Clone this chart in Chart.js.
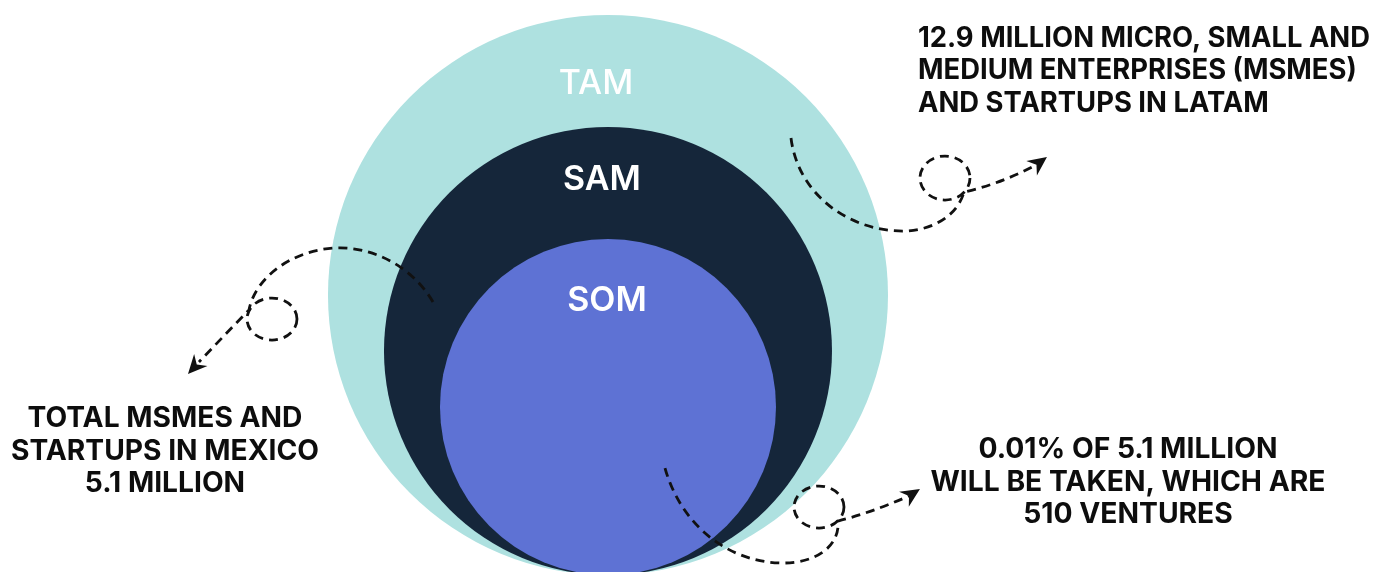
<!DOCTYPE html>
<html lang="en">
<head>
<meta charset="UTF-8">
<title>TAM SAM SOM</title>
<style>
  html, body { margin: 0; background: #fff; }
  #wrap { width: 1387px; height: 572px; }
</style>
</head>
<body>
<div id="wrap"><canvas id="marketChart"></canvas></div>
<script src="https://cdn.jsdelivr.net/npm/chart.js"></script>
<script>
// market layers, biggest first
const markets = ['TAM', 'SAM', 'SOM'];
// relative circle sizes (5 : 4 : 3); the circles touch at the bottom
const ringSizes = [5, 4, 3];
const marketNotes = [
  ['12.9 MILLION MICRO, SMALL AND', 'MEDIUM ENTERPRISES (MSMES)', 'AND STARTUPS IN LATAM'],
  ['TOTAL MSMES AND', 'STARTUPS IN MEXICO', '5.1 MILLION'],
  ['0.01% OF 5.1 MILLION', 'WILL BE TAKEN, WHICH ARE', '510 VENTURES']
];

const ringColors = ['#aee1e0', '#15263a', '#5e72d4'];
const labelStyle = [
  { weight: 500, dx: -12, dy: 79 },
  { weight: 600, dx: -6, dy: 63 },
  { weight: 600, dx: -1, dy: 72 }
];

// the common bottom of the circles sits just below the canvas edge
const Y_MIN = 0.054, Y_MAX = 10.268;

// where each note sits (axis units) and how wide its widest line is (px)
const noteLayout = [
  { at: [5.536, 9.429], align: 'left', fit: 452 },
  { at: [-7.911, 2.643], align: 'center', fit: 308 },
  { at: [9.286, 2.089], align: 'center', fit: 395 }
];

// dashed arrows with a little loop, in axis units
const arrows = [
  {
    start: [3.268, 7.804],
    curves: [
      [[3.393, 6.786], [4.321, 6.125], [5.304, 6.143]],
      [[5.839, 6.161], [6.25, 6.446], [6.357, 6.839]]
    ],
    loop: { c: [6.018, 7.089], rx: 25, ry: 22 },
    exit: [[7.0, 6.982], [7.643, 7.321]],
    tip: [7.839, 7.464]
  },
  {
    start: [-3.125, 4.875],
    curves: [
      [[-3.5, 5.518], [-4.214, 5.875], [-4.875, 5.839]],
      [[-5.643, 5.804], [-6.304, 5.304], [-6.411, 4.732]]
    ],
    loop: { c: [-6.0, 4.571], rx: 25, ry: 21 },
    exit: [[-6.86, 4.27], [-7.304, 3.804]],
    tip: [-7.5, 3.589]
  },
  {
    start: [1.018, 1.911],
    curves: [
      [[1.286, 0.946], [2.089, 0.232], [3.107, 0.214]],
      [[3.75, 0.214], [4.143, 0.536], [4.107, 0.964]]
    ],
    loop: { c: [3.768, 1.214], rx: 25, ry: 21 },
    exit: [[4.679, 1.107], [5.375, 1.411]],
    tip: [5.571, 1.536]
  }
];

function drawArrow(ctx, P, a) {
  ctx.save();
  ctx.strokeStyle = '#111';
  ctx.fillStyle = '#111';
  ctx.lineWidth = 2.8;
  ctx.setLineDash([9, 6]);

  ctx.beginPath();
  const s = P(a.start);
  ctx.moveTo(s[0], s[1]);
  a.curves.forEach(c => {
    const c1 = P(c[0]), c2 = P(c[1]), e = P(c[2]);
    ctx.bezierCurveTo(c1[0], c1[1], c2[0], c2[1], e[0], e[1]);
  });
  const cp = P(a.exit[0]), end = P(a.exit[1]);
  ctx.quadraticCurveTo(cp[0], cp[1], end[0], end[1]);
  ctx.stroke();

  const lc = P(a.loop.c);
  ctx.beginPath();
  ctx.ellipse(lc[0], lc[1], a.loop.rx, a.loop.ry, 0, 0, Math.PI * 2);
  ctx.stroke();

  // arrow head
  const t = P(a.tip);
  const ang = Math.atan2(t[1] - end[1], t[0] - end[0]);
  ctx.setLineDash([]);
  ctx.translate(t[0], t[1]);
  ctx.rotate(ang);
  ctx.beginPath();
  ctx.moveTo(0, 0);
  ctx.lineTo(-19, -9);
  ctx.lineTo(-13, 0);
  ctx.lineTo(-19, 9);
  ctx.closePath();
  ctx.fill();
  ctx.restore();
}

function drawNote(ctx, lines, x, y, align, fit) {
  ctx.save();
  ctx.font = '700 28px Inter';
  ctx.fillStyle = '#0d0d0d';
  ctx.textAlign = align;
  ctx.textBaseline = 'alphabetic';
  const w = Math.max(...lines.map(l => ctx.measureText(l).width));
  ctx.translate(x, y);
  ctx.scale(fit / w, 1);
  lines.forEach((l, i) => ctx.fillText(l, 0, i * 32.5));
  ctx.restore();
}

// circle radius in px from its size, through the y scale
function ringRadius(chart, size) {
  const y = chart.scales.y;
  if (chart.chartArea && y && isFinite(y.getPixelForValue(0))) {
    return Math.abs(y.getPixelForValue(0) - y.getPixelForValue(size));
  }
  return size * chart.height / (Y_MAX - Y_MIN);
}

const annotations = {
  id: 'annotations',
  afterDatasetsDraw(chart) {
    const ctx = chart.ctx;
    const xs = chart.scales.x, ys = chart.scales.y;
    const P = p => [xs.getPixelForValue(p[0]), ys.getPixelForValue(p[1])];

    // circle names
    chart.getDatasetMeta(0).data.forEach((el, i) => {
      const st = labelStyle[i];
      const r = ringRadius(chart, ringSizes[i]);
      ctx.save();
      ctx.font = st.weight + ' 34px Inter';
      ctx.fillStyle = '#ffffff';
      ctx.textAlign = 'center';
      ctx.textBaseline = 'alphabetic';
      ctx.fillText(markets[i], el.x + st.dx, el.y - r + st.dy);
      ctx.restore();
    });

    arrows.forEach(a => drawArrow(ctx, P, a));
    marketNotes.forEach((lines, i) => {
      const l = noteLayout[i];
      const p = P(l.at);
      drawNote(ctx, lines, p[0], p[1], l.align, l.fit);
    });
  }
};

new Chart(document.getElementById('marketChart'), {
  type: 'bubble',
  data: {
    labels: markets,
    datasets: [{
      label: 'Market',
      data: ringSizes.map(s => ({ x: 0, y: s, size: s })),
      backgroundColor: ringColors,
      borderWidth: 0,
      hoverRadius: 0,
      radius(ctx) {
        const size = ctx.raw ? ctx.raw.size : 0;
        return ringRadius(ctx.chart, size);
      }
    }]
  },
  options: {
    responsive: true,
    maintainAspectRatio: false,
    animation: false,
    events: [],
    layout: { padding: 0, autoPadding: false },
    scales: {
      x: { type: 'linear', display: false, min: -10.857, max: 13.911 },
      y: { type: 'linear', display: false, min: Y_MIN, max: Y_MAX }
    },
    plugins: {
      legend: { display: false },
      tooltip: { enabled: false }
    }
  },
  plugins: [annotations]
});
</script>
</body>
</html>
